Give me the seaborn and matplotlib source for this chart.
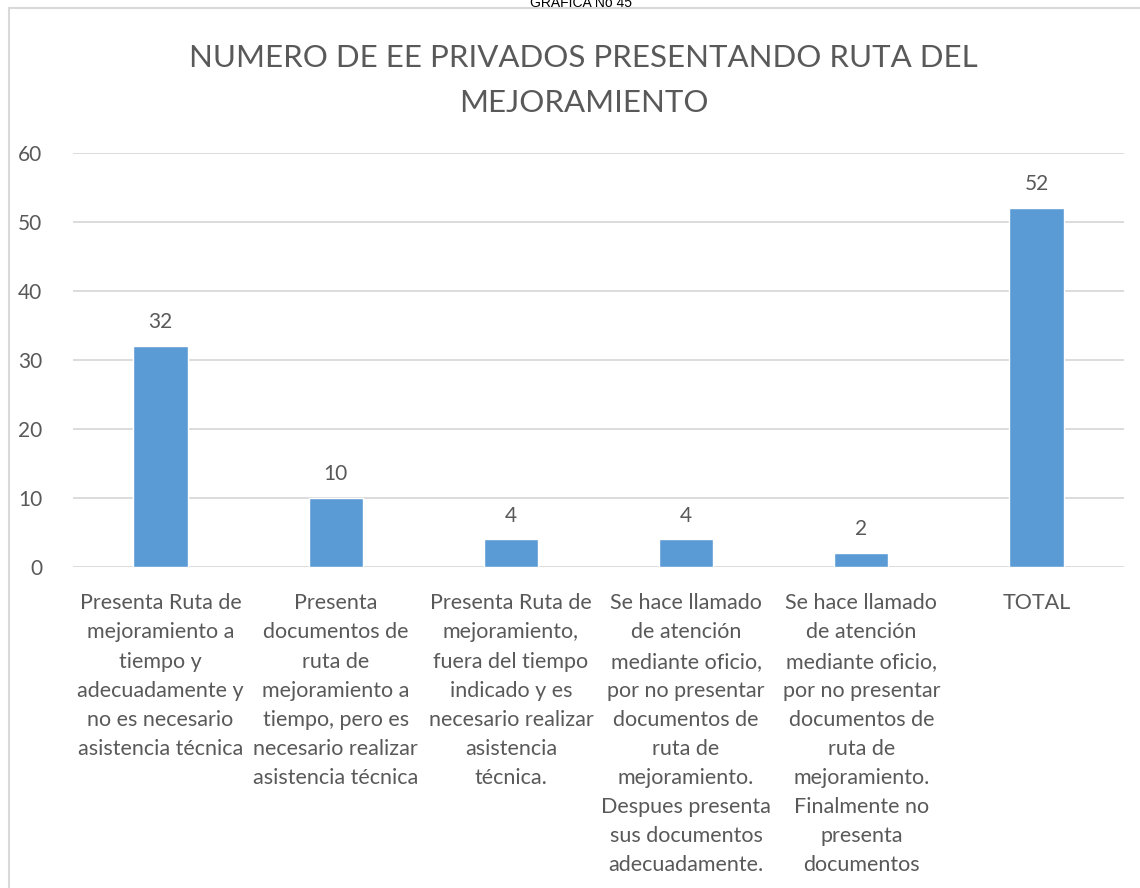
import matplotlib
matplotlib.use("Agg")
import matplotlib.pyplot as plt
import seaborn as sns
import pandas as pd
from matplotlib.patches import Rectangle

categories = [
    "Presenta Ruta de\nmejoramiento a\ntiempo y\nadecuadamente y\nno es necesario\nasistencia técnica",
    "Presenta\ndocumentos de\nruta de\nmejoramiento a\ntiempo, pero es\nnecesario realizar\nasistencia técnica",
    "Presenta Ruta de\nmejoramiento,\nfuera del tiempo\nindicado y es\nnecesario realizar\nasistencia\ntécnica.",
    "Se hace llamado\nde atención\nmediante oficio,\npor no presentar\ndocumentos de\nruta de\nmejoramiento.\nDespues presenta\nsus documentos\nadecuadamente.",
    "Se hace llamado\nde atención\nmediante oficio,\npor no presentar\ndocumentos de\nruta de\nmejoramiento.\nFinalmente no\npresenta\ndocumentos",
    "TOTAL",
]
values = [32, 10, 4, 4, 2, 52]
yticks = [0, 10, 20, 30, 40, 50, 60]

title = "NUMERO DE EE PRIVADOS PRESENTANDO RUTA DEL\nMEJORAMIENTO"
caption = "GRAFICA No 45"

sns.set_theme(style="white")
plt.rcParams["font.family"] = ["Lato", "DejaVu Sans"]

text_color = "#595959"
grid_color = "#d9d9d9"
bar_color = "#5b9bd5"

df = pd.DataFrame({"cat": categories, "val": values})

fig = plt.figure(figsize=(11.4, 8.88), dpi=100)
ax = fig.add_axes([0.064, 0.3615, 0.922, 0.4662])

sns.barplot(data=df, x="cat", y="val", color=bar_color, width=0.31,
            saturation=1, ax=ax, zorder=3)

ax.set_ylim(0, 60)
ax.set_yticks(yticks)
ax.set_yticklabels([str(t) for t in yticks], fontsize=15, color=text_color)
ax.yaxis.grid(True, color=grid_color, linewidth=1.3, zorder=0)
ax.set_axisbelow(True)
for s in ax.spines.values():
    s.set_visible(False)
ax.tick_params(axis="y", length=0, pad=22)
ax.tick_params(axis="x", length=0, pad=19)
ax.set_xticks(range(len(categories)))
ax.set_xticklabels(categories, fontsize=15.5, color=text_color,
                   linespacing=1.57, va="top")
ax.set_xlabel("")
ax.set_ylabel("")

for container in ax.containers:
    ax.bar_label(container, labels=[str(v) for v in values], padding=10,
                 fontsize=15, color=text_color)

fig.text(0.512, 0.909, title, ha="center", va="center", fontsize=22.5,
         color=text_color, linespacing=1.75)

# outer chart frame (top and left edges visible)
fig.patches.append(Rectangle((9 / 1140, -0.1), 1.2, 1 - 8 / 888 + 0.1,
                             transform=fig.transFigure, fill=False,
                             edgecolor="#d9d9d9", linewidth=1.5))

fig.text(0.51, 1.0 - 3 / 888, caption, ha="center", va="center",
         fontsize=10, color="#000000", family=["Liberation Sans", "DejaVu Sans"])

fig.savefig("out.png", dpi=100, facecolor="white")
